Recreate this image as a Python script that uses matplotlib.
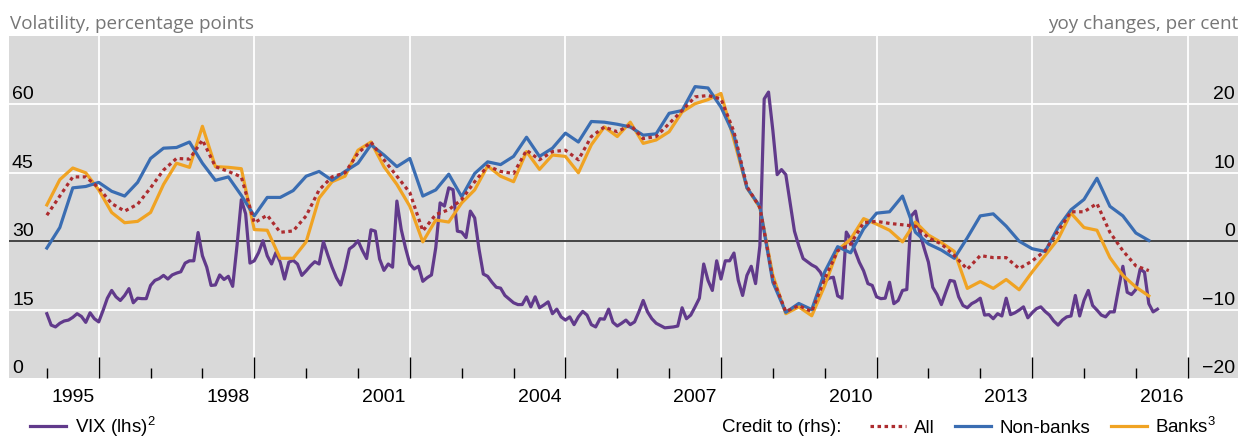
import numpy as np
import matplotlib
matplotlib.use('Agg')
import matplotlib.pyplot as plt
import matplotlib.transforms as mtransforms
from matplotlib.lines import Line2D

plt.rcParams['font.family'] = ['Liberation Sans', 'DejaVu Sans']
plt.rcParams['mathtext.default'] = 'regular'

# VIX, monthly from Jan 1995 (lhs, volatility points)
vix = [
    14.1, 11.6, 11.2, 12.0, 12.5, 12.7, 13.3, 14.1, 13.5, 12.2, 14.3, 13.0,
    12.3, 14.8, 17.5, 19.2, 17.8, 17.0, 18.1, 19.6, 16.5, 17.5, 17.4, 17.4,
    20.3, 21.4, 21.8, 22.5, 21.7, 22.6, 23.0, 23.3, 25.2, 25.7, 25.7, 31.9,
    26.8, 24.3, 20.3, 20.4, 22.6, 21.6, 22.3, 20.1, 29.0, 39.1, 36.0, 25.2,
    25.7, 27.5, 30.1, 26.8, 25.0, 27.5, 25.4, 21.7, 25.4, 25.8, 25.0, 22.5,
    23.5, 24.6, 25.5, 25.0, 29.9, 27.0, 24.3, 22.0, 20.4, 24.0, 28.3, 29.0,
    30.1, 28.0, 26.2, 32.5, 32.2, 26.1, 23.6, 25.0, 24.3, 38.8, 32.6, 28.5,
    25.0, 23.9, 24.5, 21.2, 22.0, 22.6, 28.6, 38.4, 37.7, 41.7, 41.3, 32.2,
    32.0, 30.8, 36.6, 35.1, 28.3, 22.8, 22.3, 21.0, 19.9, 19.7, 18.1, 17.3,
    16.5, 16.1, 16.1, 17.8, 15.6, 17.8, 15.4, 16.0, 16.7, 14.1, 15.1, 13.4,
    12.7, 13.4, 11.7, 13.4, 14.6, 13.8, 11.7, 11.2, 13.0, 12.9, 15.1, 12.2,
    11.4, 12.0, 12.7, 11.7, 12.3, 14.5, 17.0, 14.5, 13.0, 12.0, 11.5, 11.0,
    11.1, 11.2, 11.4, 15.4, 13.0, 13.8, 15.6, 17.5, 25.0, 21.4, 19.2, 25.7,
    21.7, 25.7, 25.7, 27.4, 21.4, 18.1, 22.5, 24.5, 20.7, 29.0, 61.2, 62.7,
    54.3, 44.6, 45.7, 44.6, 38.4, 32.2, 29.0, 26.2, 25.5, 24.8, 24.3, 23.2,
    21.2, 21.9, 22.1, 18.0, 17.5, 32.0, 30.4, 27.9, 25.4, 23.5, 20.7, 20.3,
    17.8, 17.4, 17.5, 21.0, 16.3, 17.0, 19.2, 19.4, 35.5, 36.6, 31.9, 28.5,
    25.4, 19.9, 18.3, 16.1, 18.8, 21.4, 21.2, 17.8, 15.9, 15.4, 16.3, 16.8,
    17.5, 13.8, 13.9, 13.0, 14.1, 13.6, 17.5, 13.9, 14.3, 14.9, 15.6, 13.2,
    14.3, 15.2, 15.6, 14.6, 13.8, 12.5, 11.6, 12.7, 13.4, 13.6, 18.1, 13.6,
    17.0, 19.2, 15.9, 14.9, 13.8, 13.4, 14.5, 14.5, 19.6, 24.5, 18.8, 18.3,
    19.4, 23.9, 23.2, 16.3, 14.5, 15.1,
]
vix_x = 1995 + np.arange(len(vix)) / 12

# credit growth, quarterly from Q1 1995 (rhs, yoy %)
credit_all = [
    3.8, 6.6, 9.4, 9.4, 7.8, 5.5, 4.4, 5.4, 7.8, 10.4, 12.1, 12.0,
    14.8, 10.9, 10.2, 9.4, 2.7, 3.8, 1.3, 1.5, 3.7, 7.5, 9.4, 10.0,
    12.9, 14.5, 11.9, 9.5, 7.1, 1.5, 3.9, 4.6, 6.1, 8.7, 11.0, 10.2,
    9.9, 13.3, 11.9, 13.1, 13.3, 11.9, 15.3, 16.7, 16.0, 17.0, 15.0, 15.3,
    17.2, 19.1, 21.1, 21.3, 20.8, 16.0, 8.0, 4.9, -5.5, -10.3, -9.4, -10.3,
    -5.5, -1.4, -0.4, 2.7, 2.9, 2.6, 2.4, 2.2, 0.5, -0.4, -2.1, -4.1,
    -2.1, -2.4, -2.4, -4.0, -2.9, -1.4, 1.5, 4.3, 4.3, 5.5, 1.3, -1.4,
    -3.6, -4.3,
]
credit_nonbanks = [
    -1.0, 2.0, 7.8, 8.0, 8.6, 7.3, 6.6, 8.6, 12.1, 13.6, 13.7, 14.5,
    11.4, 8.9, 9.4, 6.7, 3.7, 6.4, 6.4, 7.4, 9.5, 10.2, 8.9, 10.2,
    11.4, 14.1, 12.6, 10.9, 12.1, 6.6, 7.5, 9.8, 6.5, 9.9, 11.6, 11.2,
    12.4, 15.2, 12.4, 13.6, 15.8, 14.5, 17.5, 17.4, 17.1, 16.7, 15.5, 15.7,
    18.7, 19.1, 22.6, 22.4, 19.6, 15.5, 7.8, 5.1, -6.0, -10.4, -9.1, -10.0,
    -4.5, -0.8, -1.7, 1.8, 4.1, 4.3, 6.6, 1.3, -0.4, -1.3, -2.5, 0.5,
    3.7, 4.0, 2.2, 0.0, -1.1, -1.5, 2.0, 4.6, 6.1, 9.2, 5.1, 3.7,
    1.2, 0.1,
]
credit_banks = [
    5.3, 9.0, 10.7, 10.0, 7.5, 4.2, 2.7, 2.9, 4.2, 8.3, 11.4, 10.8,
    16.8, 10.9, 10.8, 10.6, 1.7, 1.6, -2.5, -2.5, -0.1, 6.3, 8.7, 9.5,
    13.3, 14.5, 10.9, 8.3, 5.1, -0.1, 3.1, 2.8, 5.6, 7.5, 11.0, 9.5,
    8.7, 13.1, 10.5, 12.6, 12.4, 10.0, 14.1, 16.7, 15.3, 17.4, 14.3, 14.8,
    16.0, 18.9, 20.1, 20.7, 21.6, 14.8, 7.8, 4.9, -5.0, -10.6, -9.6, -10.9,
    -6.5, -1.3, 0.3, 3.3, 2.5, 1.6, -0.1, 2.8, 0.9, -0.2, -1.5, -6.9,
    -5.9, -6.9, -5.6, -7.1, -4.5, -2.1, 0.3, 4.1, 2.0, 1.6, -2.4, -5.0,
    -6.7, -8.0,
]
credit_x = 1995 + np.arange(len(credit_all)) / 4

left_ticks = [0, 15, 30, 45, 60]
right_ticks = [-20, -10, 0, 10, 20]
year_labels = [1995, 1998, 2001, 2004, 2007, 2010, 2013, 2016]

PURPLE = '#613a8b'
BLUE = '#3a6db2'
ORANGE = '#f0a323'
RED = '#ad2c2f'
GREY_TXT = '#767676'

fig = plt.figure(figsize=(12.4, 4.38), dpi=100)
ax = fig.add_axes([9 / 1240, 1 - 378 / 438, 1229 / 1240, 342 / 438])
ax2 = ax.twinx()

ax.set_facecolor('#d9d9d9')
ax.set_xlim(1994.27, 2017.97)
ax.set_ylim(0, 75)
ax2.set_ylim(-20, 30)

for s in list(ax.spines.values()) + list(ax2.spines.values()):
    s.set_visible(False)

# grid
for y in [15, 45, 60]:
    ax.axhline(y, color='white', lw=1.3, zorder=1)
for yr in range(1996, 2018, 3):
    ax.axvline(yr, color='white', lw=1.3, zorder=1)
ax.axhline(30, color='#444444', lw=1.4, zorder=2)

# ticks along the bottom
ax.set_xticks(range(1996, 2018, 3))
ax.set_xticks(range(1995, 2018), minor=True)
ax.tick_params(axis='x', which='major', direction='in', length=15, width=1.0,
               color='black', labelbottom=False)
ax.tick_params(axis='x', which='minor', direction='in', length=7.3, width=1.0,
               color='black')
ax.set_yticks([])
ax2.set_yticks([])

ax.plot(vix_x, vix, color=PURPLE, lw=2.3, zorder=3)
ax2.plot(credit_x, credit_banks, color=ORANGE, lw=2.3, zorder=3)
ax2.plot(credit_x, credit_nonbanks, color=BLUE, lw=2.3, zorder=4)
ax2.plot(credit_x, credit_all, color=RED, lw=2.3, ls=(0, (1.1, 1.1)), zorder=5)

# tick labels drawn inside the plot, just above the gridlines
up = mtransforms.ScaledTranslation(0, 5 / 100, fig.dpi_scale_trans)
tl = mtransforms.blended_transform_factory(ax.transAxes, ax.transData) + up
tr = mtransforms.blended_transform_factory(ax2.transAxes, ax2.transData) + up
for v in left_ticks:
    ax.text(3 / 1229, v, str(v), transform=tl, ha='left', va='baseline',
            fontsize=14, zorder=6)
for v in right_ticks:
    ax2.text(1 - 3 / 1229, v, str(v).replace('-', '\u2212'), transform=tr,
             ha='right', va='baseline', fontsize=14, zorder=6)

tx = mtransforms.blended_transform_factory(ax.transData, ax.transAxes)
for yr in year_labels:
    ax.text(yr + 0.5, -20 / 342, str(yr), transform=tx, ha='center',
            va='center', fontsize=14)

fig.text(10 / 1240, 1 - 29 / 438, 'Volatility, percentage points',
         color=GREY_TXT, fontsize=13.6, family='Open Sans', va='baseline')
fig.text(1238 / 1240, 1 - 29 / 438, 'yoy changes, per cent',
         color=GREY_TXT, fontsize=13.6, family='Open Sans', va='baseline',
         ha='right')

# legends
leg_y = 1 - 427 / 438
h_vix = [Line2D([], [], color=PURPLE, lw=2.3)]
fig.legend(h_vix, ['VIX (lhs)$^2$'], loc='center left',
           bbox_to_anchor=(30 / 1240, leg_y), frameon=False,
           fontsize=13.5, handlelength=1.9, handletextpad=0.5,
           borderpad=0, borderaxespad=0)
fig.text(722 / 1240, leg_y, 'Credit to (rhs):', fontsize=13.5,
         va='center', ha='left')
h_cr = [Line2D([], [], color=RED, lw=2.3, ls=(0, (1.1, 1.1))),
        Line2D([], [], color=BLUE, lw=2.3),
        Line2D([], [], color=ORANGE, lw=2.3)]
fig.legend(h_cr, ['All', 'Non-banks', 'Banks$^3$'], loc='center left',
           bbox_to_anchor=(870 / 1240, leg_y), frameon=False,
           ncol=3, fontsize=13.5, handlelength=1.9, handletextpad=0.45,
           columnspacing=1.1, borderpad=0, borderaxespad=0)

fig.savefig('out.png', dpi=100)
